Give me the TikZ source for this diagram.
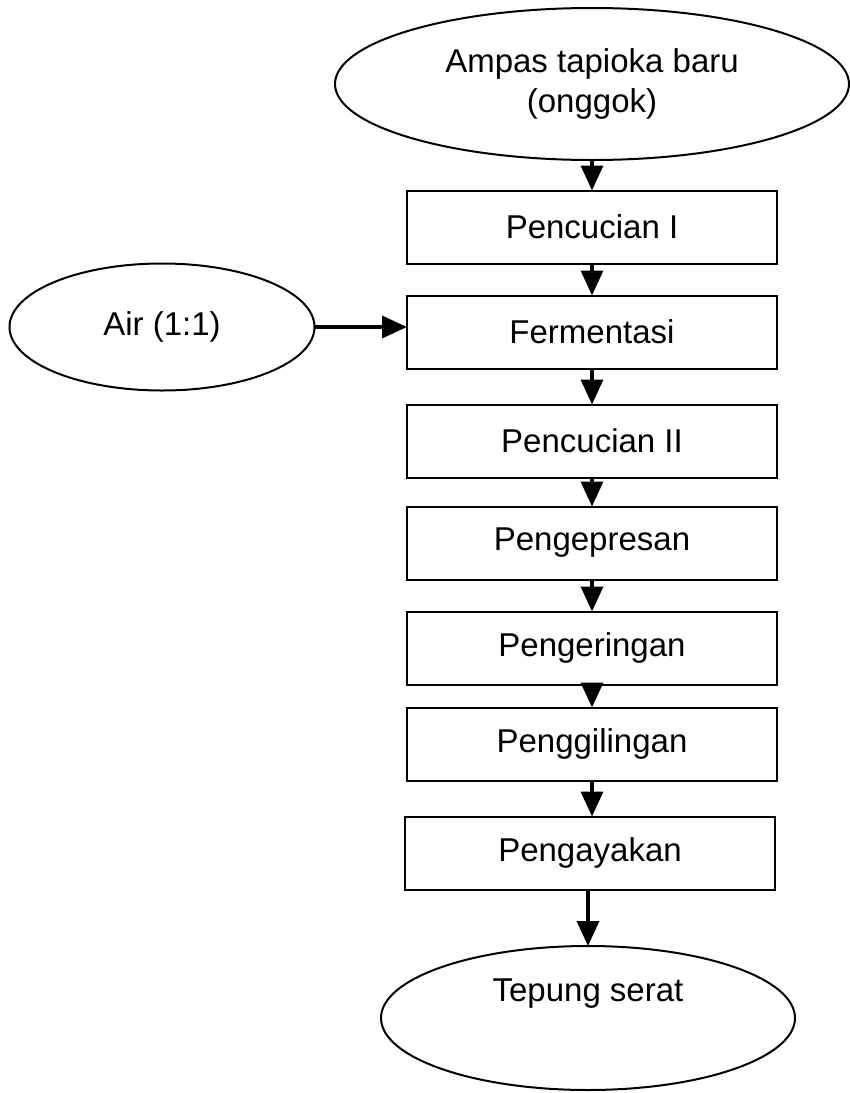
\documentclass[tikz,border=0pt]{standalone}
\usepackage{fontspec}
\setmainfont{Liberation Sans}
\usetikzlibrary{shapes.geometric,arrows.meta}
\begin{document}
\begin{tikzpicture}[x=1pt,y=-1pt,
  every node/.style={font=\fontsize{33}{40}\selectfont},
  stepbox/.style={draw,line width=2pt,rectangle,inner sep=0pt,outer sep=0pt,minimum width=370pt,minimum height=73pt},
  oval/.style={draw,line width=2pt,ellipse,inner sep=0pt,outer sep=0pt},
  flow/.style={line width=3.5pt,-{Triangle[length=25pt,width=22pt]}}]
\useasboundingbox (0,0) rectangle (850,1093);
\node[oval,minimum width=514pt,minimum height=152pt,align=center] (top) at (592,84) {Ampas tapioka baru\\(onggok)};
\node[stepbox] (b1) at (592,227) {Pencucian I};
\node[stepbox] (b2) at (592,332) {Fermentasi};
\node[stepbox] (b3) at (592,441) {Pencucian II};
\node[stepbox] (b4) at (592,543) {Pengepresan};
\node[stepbox] (b5) at (592,648) {Pengeringan};
\node[stepbox] (b6) at (592,744) {Penggilingan};
\node[stepbox] (b7) at (590,853) {Pengayakan};
\node[oval,minimum width=305pt,minimum height=127pt] (air) at (162,327) {Air (1:1)};
\node[oval,minimum width=414pt,minimum height=144pt] (bot) at (588,1018) {};
\node (botlbl) at (588,994) {Tepung serat};
\draw[flow] (top.south) -- (b1.north);
\draw[flow] (b1) -- (b2);
\draw[flow] (b2) -- (b3);
\draw[flow] (b3) -- (b4);
\draw[flow] (b4) -- (b5);
\draw[flow] (b5) -- (b6);
\draw[flow] (b6.south) -- (b6.south |- b7.north);
\draw[flow] (b7.south -| bot.north) -- (bot.north);
\draw[flow] (air.east) -- (air.east -| b2.west);
\end{tikzpicture}
\end{document}
